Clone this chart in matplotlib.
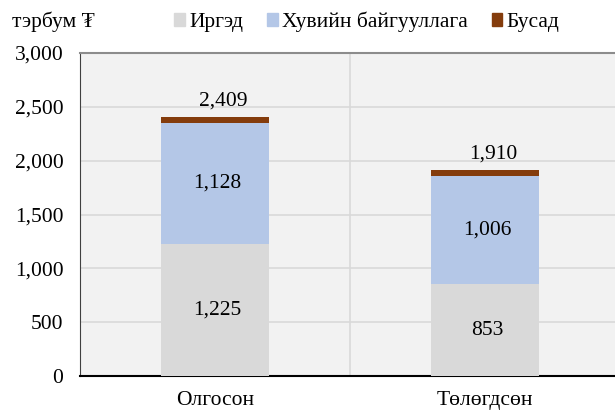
import matplotlib.pyplot as plt
from matplotlib.patches import Patch

categories = ['Олгосон', 'Төлөгдсөн']
irged = [1225, 853]
khuviin = [1128, 1006]
busad = [56, 51]
totals = [2409, 1910]
yticks = [0, 500, 1000, 1500, 2000, 2500, 3000]

plt.rcParams['font.family'] = ['Liberation Serif', 'DejaVu Serif']
plt.rcParams['font.size'] = 15.5

fig = plt.figure(figsize=(6.15, 4.12), dpi=100)
# plot area runs a bit past the right edge, as in the reference
ax = fig.add_axes([80 / 615, 36 / 412, 540 / 615, 323 / 412])
ax.set_facecolor('#f2f2f2')

x = range(len(categories))
w = 0.4
c1, c2, c3 = '#d9d9d9', '#b4c7e7', '#843c0c'
ax.bar(x, irged, w, color=c1, zorder=3)
ax.bar(x, khuviin, w, bottom=irged, color=c2, zorder=3)
base3 = [a + b for a, b in zip(irged, khuviin)]
ax.bar(x, busad, w, bottom=base3, color=c3, zorder=3)

for i in x:
    ax.text(i + 0.01, irged[i] / 2, f'{irged[i]:,}', ha='center', va='center', zorder=4)
    ax.text(i + 0.01, irged[i] + khuviin[i] / 2, f'{khuviin[i]:,}', ha='center', va='center', zorder=4)
    ax.text(i + 0.03, totals[i] + 60, f'{totals[i]:,}', ha='center', va='bottom', zorder=4)

ax.set_xlim(-0.5, 1.5)
ax.set_ylim(0, 3000)
ax.set_yticks(yticks)
ax.set_yticklabels([f'{v:,}' for v in yticks])
ax.set_xticks(list(x))
ax.set_xticklabels(categories)
ax.tick_params(length=0)
ax.tick_params(axis='y', pad=12)
ax.tick_params(axis='x', pad=11)

ax.yaxis.grid(True, color='#d9d9d9', lw=1.2, zorder=1)
ax.axvline(0.5, color='#d9d9d9', lw=1.2, zorder=1)
ax.spines['right'].set_visible(False)
ax.spines['top'].set_color('#8c8c8c')
ax.spines['top'].set_linewidth(1.5)
ax.spines['left'].set_color('#404040')
ax.spines['bottom'].set_color('#000000')
ax.spines['bottom'].set_linewidth(1.5)

fig.text(12 / 615, 1 - 22 / 412, 'тэрбум ₮', ha='left', va='center', fontsize=15.5)

handles = [Patch(color=c1), Patch(color=c2), Patch(color=c3)]
fig.legend(handles, ['Иргэд', 'Хувийн байгууллага', 'Бусад'], loc='center',
           bbox_to_anchor=(367 / 615, 1 - 22 / 412), ncol=3, frameon=False,
           handlelength=0.5, handleheight=0.5, handletextpad=0.2, columnspacing=1.1,
           fontsize=15.5)

fig.savefig('out.png', dpi=100)
